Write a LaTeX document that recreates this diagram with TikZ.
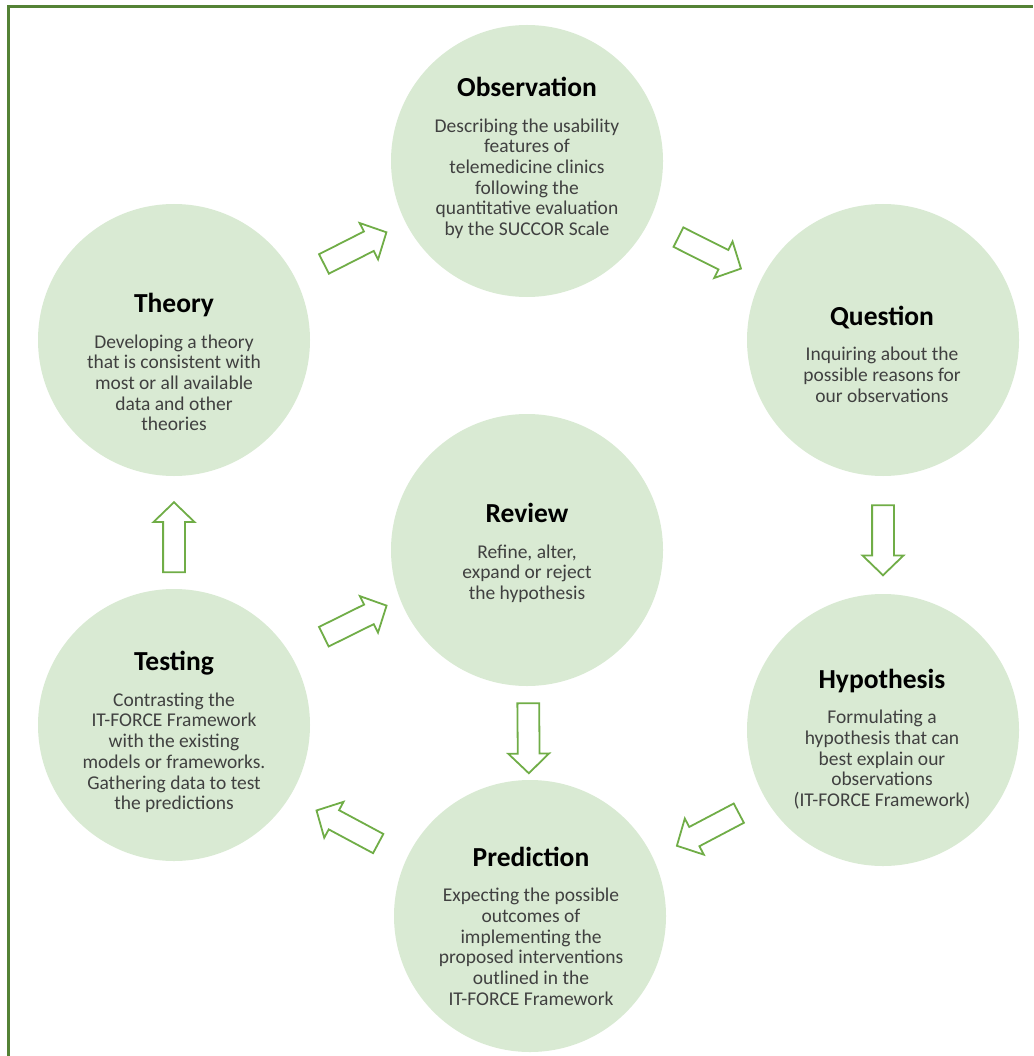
\documentclass[tikz,border=0pt]{standalone}
\usepackage{fontspec}
\setmainfont{Carlito}
\usetikzlibrary{shapes.arrows}
\definecolor{frameGreen}{RGB}{84,130,53}
\definecolor{arrowGreen}{RGB}{112,173,71}
\definecolor{stageFill}{RGB}{217,234,211}
\definecolor{bodyGray}{RGB}{64,64,64}
\newcommand{\StageTitle}[1]{{\bfseries\fontsize{27.5}{30}\selectfont\color{black}#1}\\[15pt]}

\begin{document}
\begin{tikzpicture}[x=1pt,y=-1pt,
  stage/.style={circle,fill=stageFill,minimum size=272pt,inner sep=0pt},
  stagetext/.style={align=center,font=\fontsize{19.5}{20.7}\selectfont,text=bodyGray,inner sep=0pt},
  blockarrow/.style={single arrow,draw=arrowGreen,fill=white,line width=1.8pt,minimum height=70pt,
    text height=10pt,text depth=10pt,single arrow head extend=9.5pt,single arrow tip angle=92,
    inner sep=0pt,sloped,allow upside down}]
\useasboundingbox (0,0) rectangle (1033,1056);
\draw[frameGreen,line width=3pt] (8,1056) -- (8,7) -- (1033,7);
% the seven stages
\node[stage] (observation) at (527,161) {};
\node[stage] (question) at (883,340) {};
\node[stage] (theory) at (174,340) {};
\node[stage] (review) at (527,550) {};
\node[stage] (hypothesis) at (883,730) {};
\node[stage] (testing) at (174,725) {};
\node[stage] (prediction) at (530,916) {};
\node[stagetext] (observationtext) at (527,158) {\StageTitle{Observation}Describing the usability\\features of\\telemedicine clinics\\following the\\quantitative evaluation\\by the SUCCOR Scale};
\node[stagetext] (questiontext) at (882,354) {\StageTitle{Question}Inquiring about the\\possible reasons for\\our observations};
\node[stagetext] (theorytext) at (174,362) {\StageTitle{Theory}Developing a theory\\that is consistent with\\most or all available\\data and other\\theories};
\node[stagetext] (reviewtext) at (527,553) {\StageTitle{Review}Refine, alter,\\expand or reject\\the hypothesis};
\node[stagetext] (hypothesistext) at (882,739) {\StageTitle{Hypothesis}Formulating a\\hypothesis that can\\best explain our\\observations\\(IT-FORCE Framework)};
\node[stagetext] (testingtext) at (174,732) {\StageTitle{Testing}Contrasting the\\IT-FORCE Framework\\with the existing\\models or frameworks.\\Gathering data to test\\the predictions};
\node[stagetext] (predictiontext) at (531,926) {\StageTitle{Prediction}Expecting the possible\\outcomes of\\implementing the\\proposed interventions\\outlined in the\\IT-FORCE Framework};
% block arrows between stages
\path (theory) -- node[blockarrow] (a1) {} (observation);
\path (observation) -- node[blockarrow] (a2) {} (question);
\path (question) -- node[blockarrow] (a3) {} (hypothesis);
\path ([shift={(6pt,-4pt)}]hypothesis.center) -- node[blockarrow] (a4) {} ([shift={(6pt,-4pt)}]prediction.center);
\path ([yshift=-9pt]prediction.center) -- node[blockarrow] (a5) {} ([yshift=-9pt]testing.center);
\path ([yshift=-10pt]testing.center) -- node[blockarrow] (a6) {} ([yshift=-10pt]theory.center);
\path ([yshift=14pt]testing.center) -- node[blockarrow] (a7) {} ([yshift=14pt]review.center);
\path (review) -- node[blockarrow] (a8) {} (prediction);
\end{tikzpicture}
\end{document}
